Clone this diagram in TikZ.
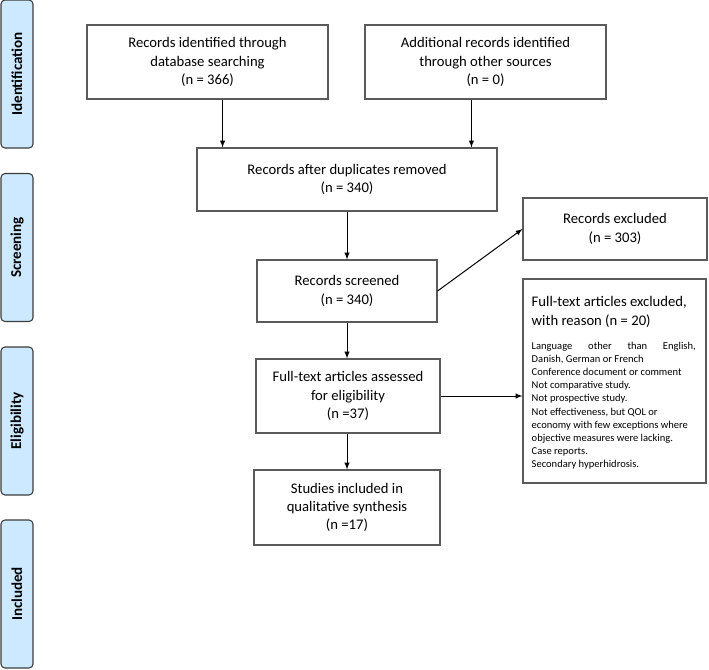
\documentclass[tikz,border=0pt]{standalone}
\usepackage{fontspec}
\setmainfont{Carlito}
\usetikzlibrary{calc, arrows}
\tikzset{>=latex}
\definecolor{sideblue}{RGB}{204, 233, 255}
\definecolor{boxgray}{RGB}{90, 90, 90}
\definecolor{sidegray}{RGB}{60, 60, 60}
\tikzset{
  box/.style = {draw = boxgray, line width = 0.8pt, align = center, inner sep = 2pt, font = \fontsize{11}{13.7}\selectfont},
  sidebox/.style = {draw = sidegray, fill = sideblue, line width = 0.8pt, rounded corners = 3pt, rotate = 90, minimum width = 111pt, minimum height = 24pt, inner sep = 0pt, font = \fontsize{11.3}{13.7}\selectfont\bfseries},
  note/.style = {align = left, inner sep = 0pt, anchor = north west},
  arr/.style = {->, line width = 0.75pt}
}
\begin{document}
\begin{tikzpicture}[x = 0.75pt, y = -0.75pt]
\useasboundingbox (0,0) rectangle (709,669);
\node[sidebox] (ident) at (17, 74) {Identification};
\node[sidebox] (screen) at (17, 247.5) {Screening};
\node[sidebox] (elig) at (17, 421) {Eligibility};
\node[sidebox] (incl) at (17, 594) {Included};
\node[box, minimum width = 180.75pt, minimum height = 55.5pt] (dbsearch) at (207.5, 62) {Records identified through\\ database searching\\ (n = 366)};
\node[box, minimum width = 180.75pt, minimum height = 55.5pt] (other) at (485.5, 62) {Additional records identified\\ through other sources\\ (n = 0)};
\node[box, minimum width = 225pt, minimum height = 47.25pt] (dupl) at (347, 179.5) {Records after duplicates removed\\ (n = 340)};
\node[box, minimum width = 135pt, minimum height = 46.5pt] (screened) at (347, 291) {Records screened\\ (n = 340)};
\node[box, minimum width = 138pt, minimum height = 46.5pt] (recexcl) at (615, 229) {Records excluded\\ (n = 303)};
\node[box, minimum width = 138pt, minimum height = 55.5pt] (fulltext) at (348, 396) {Full-text articles assessed\\ for eligibility\\ (n =37)};
\node[box, minimum width = 139.5pt, minimum height = 56.25pt] (studies) at (347, 507.5) {Studies included in\\ qualitative synthesis\\ (n =17)};
\node[box, minimum width = 137.25pt, minimum height = 153pt] (ftexcl) at (614.5, 381) {};
\node[note, font = \fontsize{11}{13.7}\selectfont] (fttitle) at ($(ftexcl.north west)+(9,18)$) {Full-text articles excluded,\\ with reason (n = 20)};
\node[note, font = \fontsize{7.9}{9.9}\selectfont] (ftreasons) at ($(ftexcl.north west)+(9,63)$) {\makebox[123pt][s]{Language other than English,}\\ Danish, German or French\\ Conference document or comment\\ Not comparative study.\\ Not prospective study.\\ Not effectiveness, but QOL or\\ economy with few exceptions where\\ objective measures were lacking.\\ Case reports.\\ Secondary hyperhidrosis.};
\coordinate (in1) at ($(dupl.north west)!0.0867!(dupl.north east)$);
\coordinate (in2) at ($(dupl.north east)!0.0867!(dupl.north west)$);
\draw[arr] (dbsearch.south -| in1) -- (in1);
\draw[arr] (other.south -| in2) -- (in2);
\draw[arr] (dupl.south) -- (screened.north);
\draw[arr] (screened.south) -- (screened.south |- fulltext.north);
\draw[arr] (fulltext.south -| studies.north) -- (studies.north);
\draw[arr] (screened.east) -- (recexcl.west);
\draw[arr] (fulltext.east) -- (fulltext.east -| ftexcl.west);
\end{tikzpicture}
\end{document}
